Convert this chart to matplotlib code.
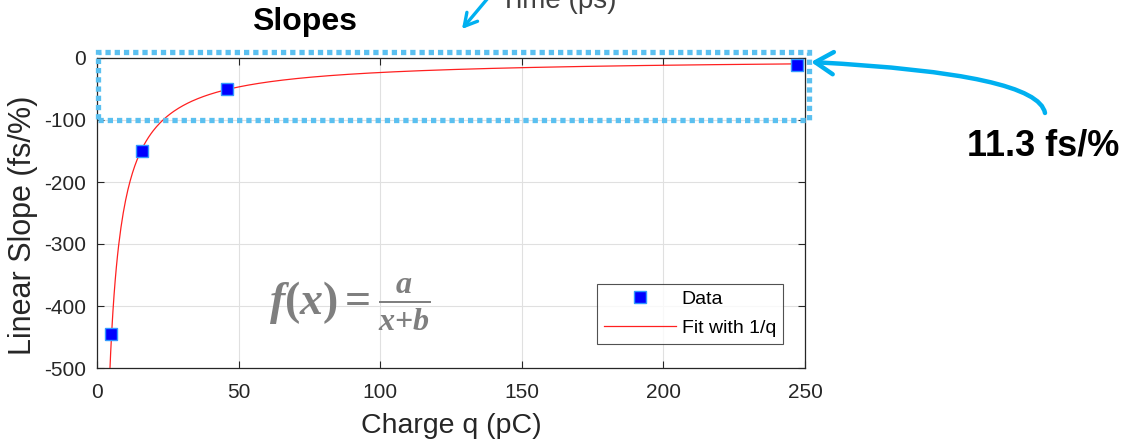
import numpy as np
import matplotlib
matplotlib.use("Agg")
import matplotlib.pyplot as plt
from matplotlib.patches import Rectangle, FancyArrowPatch

plt.rcParams['font.family'] = ['Liberation Sans', 'DejaVu Sans']
plt.rcParams['axes.unicode_minus'] = False
plt.rcParams['mathtext.fontset'] = 'custom'
plt.rcParams['mathtext.it'] = 'Liberation Serif:italic:bold'
plt.rcParams['mathtext.rm'] = 'Liberation Serif:bold'

# Data
charge_q = [5, 16, 46, 247]
slope = [-445, -150, -50, -11.3]
fit_a, fit_b = -2340.0, 0.1
fit_q = np.linspace(4.0, 247, 600)
fit_y = fit_a / (fit_q + fit_b)

xticks = [0, 50, 100, 150, 200, 250]
yticks = [-500, -400, -300, -200, -100, 0]

W, H = 1123, 445
fig = plt.figure(figsize=(W / 100, H / 100), dpi=100)
ax = fig.add_axes([97 / W, 1 - 368 / H, (805 - 97) / W, (368 - 58) / H])

ax.plot(charge_q, slope, 's', color='#0000ff', mec='#3399ff', mew=1.0, ms=9,
        label='Data', zorder=4)
ax.plot(fit_q, fit_y, color='#ff2020', lw=0.9, label='Fit with 1/q', zorder=3)

ax.set_xlim(0, 250)
ax.set_ylim(-500, 0)
ax.set_xticks(xticks)
ax.set_yticks(yticks)
ax.grid(True, color='#e0e0e0', lw=0.8)
ax.set_axisbelow(True)
ax.tick_params(direction='in', top=True, right=True, length=5, width=0.8,
               colors='#262626', labelsize=15)
ax.tick_params(axis='y', pad=8)
ax.tick_params(axis='x', pad=11)
for sp in ax.spines.values():
    sp.set_color('#262626')
    sp.set_linewidth(0.9)
ax.set_xlabel('Charge q (pC)', fontsize=20.5, color='#262626')
ax.set_ylabel('Linear Slope (fs/%)', fontsize=22, color='#262626')
ax.xaxis.set_label_coords(0.5, (368 - 413) / 310)
ax.yaxis.set_label_coords((38 - 97) / 708, 0.46)

leg = ax.legend(loc='lower right', bbox_to_anchor=(783 / W, 1 - 344 / H),
                bbox_transform=fig.transFigure, fontsize=14, frameon=True,
                fancybox=False, edgecolor='#262626', borderpad=0.35,
                handlelength=3.7, handletextpad=0.3, labelspacing=0.6,
                borderaxespad=0)
leg.get_frame().set_linewidth(0.8)

ax.text(0.357, 0.205, r'$f(x) = \frac{a}{x{+}b}$', transform=ax.transAxes,
        fontsize=33, color='#7f7f7f', ha='center', va='center')

# Title and annotations
fig.text(305 / W, 1 - 22 / H, 'Slopes', fontsize=23, fontweight='bold',
         ha='center', va='center')
fig.text(500 / W, 1 - 8 / H, 'Time (ps)', fontsize=20, color='#404040',
         ha='left', va='baseline')
fig.text(1043 / W, 1 - 146 / H, '11.3 fs/%', fontsize=26, fontweight='bold',
         ha='center', va='center')

cyan = '#00b0f0'
fig.patches.append(FancyArrowPatch((488 / W, 1 - (-2) / H), (462 / W, 1 - 29 / H),
                                   transform=fig.transFigure,
                                   arrowstyle='->,head_length=9,head_width=5',
                                   color=cyan, lw=2.4, mutation_scale=1,
                                   shrinkA=0, shrinkB=0))
fig.patches.append(FancyArrowPatch((1045 / W, 1 - 113 / H), (811 / W, 1 - 62 / H),
                                   transform=fig.transFigure,
                                   connectionstyle='angle3,angleA=100,angleB=177',
                                   arrowstyle='->,head_length=13,head_width=8',
                                   color=cyan, lw=3.2, mutation_scale=1,
                                   shrinkA=0, shrinkB=0))

box = Rectangle((98 / W, 1 - 120 / H), (809 - 98) / W, (120 - 52) / H,
                transform=fig.transFigure, fill=False, edgecolor='#5bc0f0',
                lw=3.8, linestyle=(0, (1.0, 0.75)), capstyle='butt')
fig.patches.append(box)

fig.savefig('out.png', dpi=100)
